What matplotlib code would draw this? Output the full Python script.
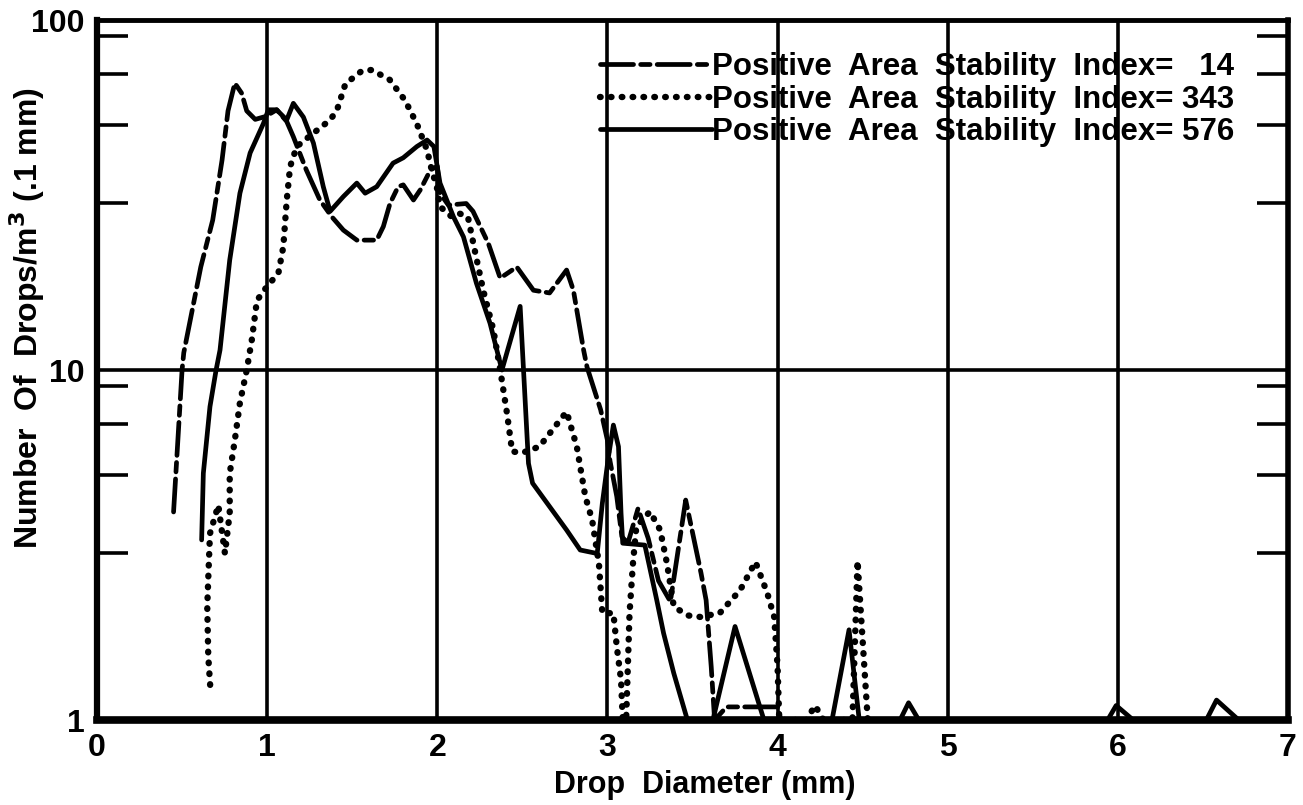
import matplotlib
matplotlib.use("Agg")
import matplotlib.pyplot as plt
from matplotlib.ticker import FixedLocator, NullFormatter

plt.rcParams['font.family'] = ['Liberation Sans', 'DejaVu Sans']
plt.rcParams['font.weight'] = 'bold'

# Positive Area Stability Index = 14 (dash-dot)
x14 = [0.45, 0.50, 0.51, 0.61, 0.68, 0.735, 0.77, 0.81, 0.85, 0.88, 0.93, 0.99,
       1.056, 1.115, 1.154, 1.23, 1.31, 1.38, 1.448, 1.527, 1.644, 1.683, 1.722,
       1.77, 1.80, 1.86, 1.90, 1.96, 2.0, 2.016, 2.065, 2.17, 2.21, 2.30, 2.37,
       2.467, 2.565, 2.66, 2.76, 2.80, 2.86, 2.88, 2.96, 3.00, 3.015, 3.055,
       3.085, 3.12, 3.18, 3.24, 3.30, 3.37, 3.46, 3.55, 3.58, 3.61, 3.63, 3.70,
       4.0, 4.02]
y14 = [3.93, 10.0, 11.2, 19.7, 26.8, 39.8, 55, 66, 61.8, 55, 52, 53,
       55.4, 51.3, 46.4, 37.3, 30.6, 27.4, 25.1, 23.5, 23.5, 25.7, 29.9,
       33.4, 33.8, 30.6, 32.7, 37.3, 38.2, 32, 29.6, 29.9, 28.4, 23.0, 18.3,
       19.7, 16.9, 16.6, 19.3, 16.9, 11.4, 10.2, 7.7, 6.3, 5.5, 4.35,
       3.34, 3.2, 4.02, 3.3, 2.5, 2.18, 4.25, 2.63, 2.2, 1.42, 1.0, 1.09,
       1.09, 1.0]

# Positive Area Stability Index = 343 (dotted)
x343 = [0.665, 0.654, 0.648, 0.655, 0.664, 0.713, 0.752, 0.78, 0.78, 0.81, 0.84,
        0.88, 0.91, 0.94, 0.998, 1.066, 1.095, 1.115, 1.135, 1.174, 1.272, 1.37,
        1.41, 1.46, 1.556, 1.615, 1.72, 1.81, 1.88, 1.94, 1.967, 1.997, 2.016,
        2.085, 2.13, 2.18, 2.22, 2.27, 2.33, 2.37, 2.41, 2.44, 2.5, 2.6, 2.76,
        2.82, 2.87, 2.91, 2.95, 2.97, 3.035, 3.055, 3.08, 3.09, 3.11, 3.13, 3.15,
        3.17, 3.25, 3.31, 3.35, 3.39, 3.47, 3.545, 3.66, 3.78, 3.87, 3.94, 3.98,
        4.0, 4.01, 4.17, 4.22, 4.27, 4.44, 4.47, 4.53]
y343 = [1.26, 1.52, 2.11, 2.62, 3.41, 4.11, 2.99, 3.9, 5.06, 6.3, 8.06,
        10, 12.2, 15.8, 17.3, 18.9, 22.5, 30.5, 38.1, 43.5, 47.5, 51.8,
        55.2, 65.7, 71.5, 72, 67.5, 59, 50.5, 42.5, 37.3, 33.4, 29.3,
        27.4, 28, 27.4, 22, 16.9, 13, 10, 7.5, 5.85, 5.8, 6.04, 7.6,
        6.04, 4.35, 3.73, 2.8, 2.02, 2.02, 1.62, 1.3, 1.0, 1.0, 2.02, 2.8,
        3.57, 3.94, 3.49, 2.8, 2.11, 1.99, 1.97, 2.02, 2.35, 2.83, 2.3, 1.97,
        1.42, 1.0, 1.0, 1.1, 1.0, 1.0, 2.85, 1.0]

# Positive Area Stability Index = 576 (solid)
x576 = [0.615, 0.625, 0.664, 0.70, 0.723, 0.78, 0.84, 0.90, 0.978, 1.007, 1.056,
        1.115, 1.154, 1.213, 1.272, 1.33, 1.37, 1.448, 1.527, 1.576, 1.644, 1.74,
        1.80, 1.88, 1.94, 1.98, 2.016, 2.095, 2.154, 2.23, 2.31, 2.38, 2.487,
        2.536, 2.56, 2.76, 2.84, 2.94, 2.97, 3.006, 3.035, 3.065, 3.08, 3.09,
        3.22, 3.29, 3.33, 3.39, 3.47, 3.62, 3.75, 3.92, 4.32, 4.42, 4.48, 4.72,
        4.77, 4.83, 5.94, 5.99, 6.09, 6.52, 6.58, 6.71]
y576 = [3.27, 5.07, 7.86, 10, 11.4, 20.6, 32, 41.7, 50.6, 55.4, 55.4,
        51.8, 57.8, 52.8, 44.5, 33.4, 28.4, 31.3, 34.2, 32.0, 33.4, 39.0,
        40.4, 43.5, 45.4, 43.5, 34.2, 27.4, 24.0, 17.7, 13.6, 10, 15.2,
        5.41, 4.75, 3.49, 3.06, 2.99, 4.16, 5.65, 6.96, 6.04, 3.9, 3.2,
        3.16, 2.2, 1.77, 1.36, 1.0, 1.0, 1.85, 1.0, 1.0, 1.81, 1.0, 1.0,
        1.12, 1.0, 1.0, 1.10, 1.0, 1.0, 1.14, 1.0]

labels = ["Positive  Area  Stability  Index=   14",
          "Positive  Area  Stability  Index= 343",
          "Positive  Area  Stability  Index= 576"]

fig = plt.figure(figsize=(13.03, 8.05), dpi=100)
ax = fig.add_axes([97 / 1303, 1 - 720 / 805, 1191 / 1303, 700 / 805])

lw = 3.4
ax.plot(x14, y14, color='black', lw=lw, linestyle=(0, (7, 1.5, 2, 1.5)),
        dash_capstyle='round', label=labels[0])
ax.plot(x343, y343, color='black', lw=4.6, linestyle=(0, (0.1, 1.6)),
        dash_capstyle='round', label=labels[1])
ax.plot(x576, y576, color='black', lw=lw, solid_capstyle='round',
        label=labels[2])

ax.set_yscale('log')
ax.set_xlim(0, 7)
ax.set_ylim(1, 100)

ax.set_xticks(range(8))
ax.set_xticklabels([str(i) for i in range(8)])
ax.yaxis.set_major_locator(FixedLocator([1, 10, 100]))
ax.set_yticklabels(['1', '10', '100'])
ax.yaxis.set_minor_locator(FixedLocator([3, 5, 7, 9, 30, 50, 70, 90]))
ax.yaxis.set_minor_formatter(NullFormatter())

ax.tick_params(axis='both', which='major', length=0, labelsize=23, pad=9)
ax.tick_params(axis='y', which='minor', direction='in', length=22, width=2.6,
               left=True, right=True)

ax.grid(True, which='major', color='black', lw=2.6)

for side, w in [('left', 4.5), ('bottom', 5.5), ('top', 3.5), ('right', 4)]:
    ax.spines[side].set_linewidth(w)

ax.set_xlabel("Drop  Diameter (mm)", fontsize=22, fontweight='bold', labelpad=0)
ax.xaxis.set_label_coords(0.51, -0.072)
ax.set_ylabel("Number  Of  Drops/m$^3$ (.1 mm)", fontsize=23, fontweight='bold')
ax.yaxis.set_label_coords(-0.042, 0.574)

leg = ax.legend(loc='upper left', bbox_to_anchor=(0.422, 0.954), frameon=False,
                fontsize=22.5, handlelength=3.6, handletextpad=0.0,
                labelspacing=0.08, borderpad=0, borderaxespad=0)

fig.savefig("out.png", dpi=100, facecolor='white')
